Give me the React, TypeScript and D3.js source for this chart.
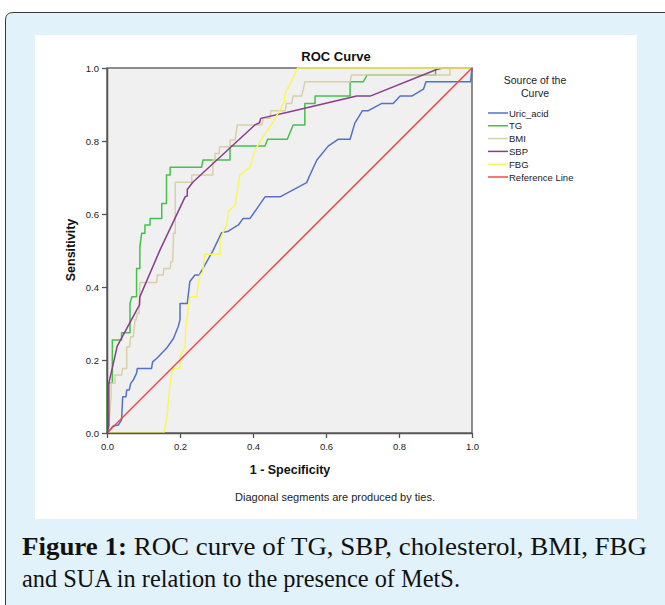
import React, { useEffect, useRef } from 'react';
import * as d3 from 'd3';

// ROC points: [1 - specificity, sensitivity]
const uricAcid: [number, number][] = [
  [0, 0], [0.017, 0.019], [0.031, 0.022], [0.040, 0.036], [0.043, 0.0995], [0.052, 0.0995],
  [0.054, 0.118], [0.061, 0.118], [0.065, 0.136], [0.072, 0.145], [0.081, 0.164], [0.083, 0.177],
  [0.122, 0.177], [0.125, 0.195], [0.136, 0.204], [0.163, 0.232], [0.182, 0.259], [0.195, 0.291],
  [0.2, 0.31], [0.2, 0.355], [0.22, 0.355], [0.227, 0.415], [0.241, 0.433], [0.253, 0.433],
  [0.291, 0.501], [0.314, 0.549], [0.33, 0.552], [0.36, 0.57], [0.373, 0.588], [0.392, 0.588],
  [0.433, 0.647], [0.474, 0.647], [0.547, 0.686], [0.556, 0.707], [0.575, 0.748], [0.606, 0.786],
  [0.634, 0.805], [0.666, 0.805], [0.679, 0.849], [0.7, 0.883], [0.716, 0.883], [0.753, 0.903],
  [0.784, 0.903], [0.803, 0.923], [0.835, 0.923], [0.867, 0.942], [0.874, 0.962], [0.996, 0.962],
  [1, 1],
];

const tg: [number, number][] = [
  [0, 0], [0, 0.137], [0.0146, 0.137], [0.0146, 0.255], [0.040, 0.255], [0.040, 0.275],
  [0.063, 0.275], [0.063, 0.355], [0.068, 0.373], [0.081, 0.373], [0.081, 0.451], [0.090, 0.451],
  [0.090, 0.51], [0.095, 0.547], [0.104, 0.547], [0.104, 0.570], [0.118, 0.570], [0.118, 0.588],
  [0.150, 0.588], [0.150, 0.629], [0.163, 0.629], [0.163, 0.707], [0.173, 0.707], [0.173, 0.728],
  [0.259, 0.728], [0.263, 0.748], [0.337, 0.748], [0.337, 0.786], [0.433, 0.786], [0.44, 0.805],
  [0.494, 0.805], [0.51, 0.844], [0.542, 0.844], [0.542, 0.903], [0.570, 0.903], [0.570, 0.923],
  [0.666, 0.923], [0.666, 0.962], [0.702, 0.962], [0.713, 0.981], [0.90, 0.981], [0.90, 1],
  [1, 1],
];

const bmi: [number, number][] = [
  [0, 0], [0.005, 0.02], [0.011, 0.0995], [0.011, 0.136], [0.022, 0.136], [0.022, 0.159],
  [0.040, 0.159], [0.043, 0.177], [0.054, 0.177], [0.054, 0.236], [0.062, 0.236], [0.065, 0.264],
  [0.072, 0.264], [0.077, 0.31], [0.08, 0.31], [0.083, 0.328], [0.088, 0.328], [0.090, 0.412],
  [0.136, 0.412], [0.138, 0.433], [0.154, 0.433], [0.156, 0.451], [0.173, 0.451], [0.175, 0.469],
  [0.18, 0.469], [0.182, 0.529], [0.182, 0.547], [0.187, 0.547], [0.187, 0.687], [0.232, 0.687],
  [0.232, 0.707], [0.29, 0.707], [0.29, 0.748], [0.296, 0.748], [0.296, 0.766], [0.308, 0.766],
  [0.308, 0.784], [0.337, 0.784], [0.337, 0.803], [0.351, 0.803], [0.357, 0.844], [0.424, 0.844],
  [0.428, 0.862], [0.447, 0.862], [0.449, 0.883], [0.488, 0.883], [0.492, 0.903], [0.506, 0.903],
  [0.51, 0.923], [0.533, 0.923], [0.538, 0.942], [0.542, 0.962], [0.666, 0.962], [0.670, 0.981],
  [0.94, 0.981], [0.94, 1], [1, 1],
];

const sbp: [number, number][] = [
  [0, 0], [0.005, 0.02], [0.005, 0.136], [0.028, 0.238], [0.089, 0.351], [0.09, 0.373],
  [0.145, 0.501], [0.214, 0.647], [0.22, 0.65], [0.22, 0.667], [0.235, 0.687], [0.405, 0.844],
  [0.418, 0.85], [0.421, 0.862], [0.501, 0.88], [0.684, 0.923], [0.721, 0.923], [0.903, 0.996],
  [0.92, 1], [1, 1],
];

const fbg: [number, number][] = [
  [0, 0], [0.156, 0], [0.159, 0.017], [0.164, 0.04], [0.173, 0.136], [0.180, 0.177],
  [0.200, 0.177], [0.200, 0.209], [0.214, 0.236], [0.216, 0.291], [0.223, 0.346], [0.227, 0.373],
  [0.246, 0.373], [0.250, 0.410], [0.255, 0.433], [0.262, 0.44], [0.268, 0.490], [0.310, 0.490],
  [0.310, 0.529], [0.319, 0.552], [0.328, 0.570], [0.332, 0.606], [0.351, 0.625], [0.364, 0.707],
  [0.392, 0.728], [0.405, 0.775], [0.428, 0.812], [0.447, 0.839], [0.474, 0.885], [0.486, 0.908],
  [0.488, 0.931], [0.51, 0.972], [0.522, 1], [1, 1],
];

const referenceLine: [number, number][] = [[0, 0], [1, 1]];

const seriesNames = ['Uric_acid', 'TG', 'BMI', 'SBP', 'FBG', 'Reference Line'];
const seriesColors = ['#5472c4', '#45c148', '#d8d0a6', '#8a3c8e', '#f8f65a', '#f04848'];
const seriesData = [uricAcid, tg, bmi, sbp, fbg, referenceLine];

const tickValues = [0, 0.2, 0.4, 0.6, 0.8, 1.0];

const App = () => {
  const ref = useRef<SVGSVGElement>(null);

  useEffect(() => {
    const svg = d3.select(ref.current);
    svg.selectAll('*').remove();

    const sans = 'Liberation Sans, Arial, sans-serif';

    // page frame
    svg.append('path')
      .attr('d', 'M5.5,700 L5.5,20 Q5.5,12.5 13,12.5 L700,12.5 L700,700 Z')
      .attr('fill', '#e1f2fb')
      .attr('stroke', '#3a3a3a')
      .attr('stroke-width', 1);
    svg.append('rect')
      .attr('x', 35).attr('y', 35).attr('width', 602).attr('height', 484)
      .attr('fill', '#ffffff');

    const x = d3.scaleLinear().domain([0, 1]).range([107, 472]);
    const y = d3.scaleLinear().domain([0, 1]).range([433, 68]);

    svg.append('rect')
      .attr('x', x(0)).attr('y', y(1))
      .attr('width', x(1) - x(0)).attr('height', y(0) - y(1))
      .attr('fill', '#f0f0f0')
      .attr('stroke', '#6a6a6a')
      .attr('stroke-width', 1.5);

    const line = d3.line<[number, number]>()
      .x(d => x(d[0]))
      .y(d => y(d[1]));

    seriesData.forEach((data, i) => {
      svg.append('path')
        .datum(data)
        .attr('d', line)
        .attr('fill', 'none')
        .attr('stroke', seriesColors[i])
        .attr('stroke-width', 1.5)
        .attr('stroke-linejoin', 'round');
    });

    const fmt = d3.format('.1f');
    const xAxis = svg.append('g')
      .attr('transform', `translate(0,${y(0)})`)
      .call(d3.axisBottom(x).tickValues(tickValues).tickFormat(d => fmt(d as number)).tickSize(5).tickSizeOuter(0));
    const yAxis = svg.append('g')
      .attr('transform', `translate(${x(0)},0)`)
      .call(d3.axisLeft(y).tickValues(tickValues).tickFormat(d => fmt(d as number)).tickSize(5).tickSizeOuter(0));
    [xAxis, yAxis].forEach(g => {
      g.select('.domain').attr('stroke', '#555').attr('stroke-width', 1.5);
      g.selectAll('line').attr('stroke', '#555').attr('stroke-width', 1.3);
      g.selectAll('text').attr('font-family', sans).attr('font-size', 9.5).attr('fill', '#222');
    });
    xAxis.selectAll('text').attr('dy', '0.9em');

    svg.append('text')
      .attr('x', 336).attr('y', 61)
      .attr('text-anchor', 'middle')
      .attr('font-family', sans).attr('font-size', 13).attr('font-weight', 'bold')
      .attr('fill', '#111')
      .text('ROC Curve');

    svg.append('text')
      .attr('x', 290).attr('y', 474)
      .attr('text-anchor', 'middle')
      .attr('font-family', sans).attr('font-size', 12.5).attr('font-weight', 'bold')
      .attr('fill', '#111')
      .text('1 - Specificity');

    svg.append('text')
      .attr('transform', 'translate(75,250) rotate(-90)')
      .attr('text-anchor', 'middle')
      .attr('font-family', sans).attr('font-size', 12.5).attr('font-weight', 'bold')
      .attr('fill', '#111')
      .text('Sensitivity');

    svg.append('text')
      .attr('x', 335).attr('y', 501)
      .attr('text-anchor', 'middle')
      .attr('font-family', sans).attr('font-size', 11)
      .attr('fill', '#222')
      .text('Diagonal segments are produced by ties.');

    // legend
    const legend = svg.append('g');
    ['Source of the', 'Curve'].forEach((t, i) => {
      legend.append('text')
        .attr('x', 535).attr('y', 84 + i * 13)
        .attr('text-anchor', 'middle')
        .attr('font-family', sans).attr('font-size', 10.5)
        .attr('fill', '#222')
        .text(t);
    });
    seriesNames.forEach((name, i) => {
      const cy = 113 + i * 12.8;
      legend.append('line')
        .attr('x1', 488).attr('x2', 508).attr('y1', cy).attr('y2', cy)
        .attr('stroke', seriesColors[i]).attr('stroke-width', 1.5);
      legend.append('text')
        .attr('x', 509).attr('y', cy + 3.5)
        .attr('font-family', sans).attr('font-size', 9.5)
        .attr('fill', '#222')
        .text(name);
    });

    // caption
    const serif = 'Liberation Serif, DejaVu Serif, serif';
    const cap1 = svg.append('text')
      .attr('x', 22).attr('y', 555)
      .attr('font-family', serif).attr('font-size', 25)
      .attr('fill', '#111')
      .attr('textLength', 625).attr('lengthAdjust', 'spacingAndGlyphs');
    cap1.append('tspan').attr('font-weight', 'bold').text('Figure 1:');
    cap1.append('tspan').text(' ROC curve of TG, SBP, cholesterol, BMI, FBG');
    svg.append('text')
      .attr('x', 22).attr('y', 587)
      .attr('font-family', serif).attr('font-size', 25)
      .attr('fill', '#111')
      .attr('textLength', 438).attr('lengthAdjust', 'spacingAndGlyphs')
      .text('and SUA in relation to the presence of MetS.');
  }, []);

  return (
    <svg
      ref={ref}
      width={665}
      height={605}
      style={{ position: 'absolute', left: 0, top: 0, display: 'block' }}
    />
  );
};

export default App;
